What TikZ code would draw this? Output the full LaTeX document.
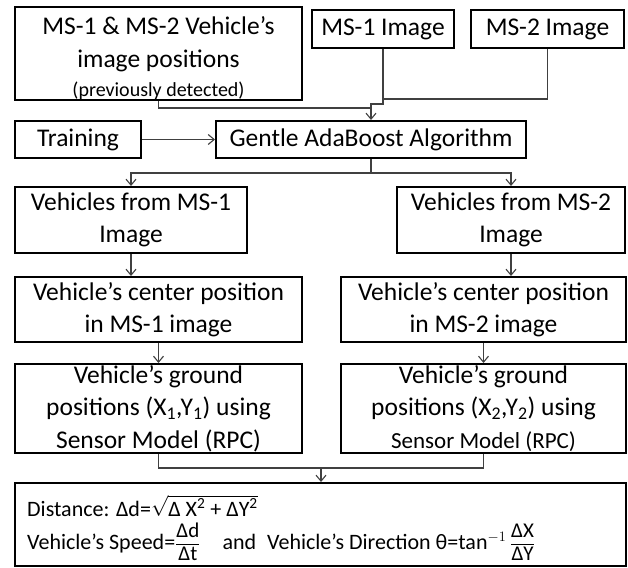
\documentclass[tikz,border=0pt]{standalone}
\usepackage{amsmath}
\usepackage{fontspec}
\setmainfont{Carlito}
\usepackage{tikz}
\usetikzlibrary{arrows.meta,positioning}

\newcommand\deltafrac[2]{{\fontsize{18}{20}\selectfont$\dfrac{\text{\fontsize{21}{21}\selectfont #1}}{\text{\fontsize{21}{21}\selectfont #2}}$}}

\begin{document}
\begin{tikzpicture}[x=1pt, y=-1pt,
    box/.style={draw, rectangle, line width=2pt, inner sep=0pt, align=center, font=\fontsize{25.5}{32.5}\selectfont},
    formula/.style={anchor=west, inner sep=0pt, font=\fontsize{22}{26}\selectfont},
    link/.style={draw=black!75, line width=1.1pt},
    >={Straight Barb[length=6pt,width=10pt]}]
    \useasboundingbox (0,0) rectangle (628,567);

    % inputs
    \node[box, minimum width=287, minimum height=87] (positions) at (158.5,53.5) {\rule{0pt}{27pt}MS-1 \& MS-2 Vehicle’s\\[1pt]image positions\\[-4pt]{\fontsize{20}{22}\selectfont(previously detected)}};
    \node[box, minimum width=142, minimum height=38] (msoneimg) at (383,29) {MS-1 Image};
    \node[box, minimum width=153, minimum height=38] (mstwoimg) at (547.5,29) {MS-2 Image};

    \node[box, minimum width=126, minimum height=37] (training) at (78,139.5) {Training};
    \node[box, minimum width=310, minimum height=37] (adaboost) at (371,139.5) {Gentle AdaBoost Algorithm};

    % two branches
    \node[box, minimum width=232, minimum height=66] (vehone) at (131,220) {Vehicles from MS-1\\Image};
    \node[box, minimum width=228, minimum height=66] (vehtwo) at (511,220) {Vehicles from MS-2\\Image};

    \node[box, minimum width=287, minimum height=65] (cenone) at (158.5,309.5) {Vehicle’s center position\\in MS-1 image};
    \node[box, minimum width=285, minimum height=65] (centwo) at (483.5,309.5) {Vehicle’s center position\\in MS-2 image};

    \node[box, minimum width=287, minimum height=89] (gndone) at (158.5,408.5) {Vehicle’s ground\\positions (X\textsubscript{1},Y\textsubscript{1}) using\\Sensor Model (RPC)};
    \node[box, minimum width=285, minimum height=89] (gndtwo) at (483.5,408.5) {Vehicle’s ground\\positions (X\textsubscript{2},Y\textsubscript{2}) using\\{\fontsize{23}{28}\selectfont Sensor Model (RPC)}};

    % result
    \node[box, minimum width=611, minimum height=83] (result) at (320.5,524.5) {};
    \node[formula] (distance) at (27,506) {Distance: Δd=$\sqrt{\text{Δ X\textsuperscript{2} + ΔY\textsuperscript{2}}}$};
    \node[formula] (speed) at (27,542) {Vehicle’s Speed=\deltafrac{Δd}{Δt}\quad and\enspace Vehicle’s Direction θ=tan$^{-1}$\,\deltafrac{ΔX}{ΔY}};

    % junctions
    \coordinate (jtop) at (383,99);
    \coordinate (jjog) at (383,104);
    \coordinate (jpos) at (371,108);
    \coordinate (split) at (371,173);
    \coordinate (merge) at (321,468);

    \draw[link] (mstwoimg.south) |- (jtop);
    \draw[link, ->] (msoneimg.south) -- (jjog) -| (adaboost.north);
    \draw[link] (positions.south) |- (jpos);
    \draw[link, ->] (training) -- (adaboost);

    \draw[link] (adaboost.south) -- (split);
    \draw[link, ->] (split) -| (vehone.north);
    \draw[link, ->] (split) -| (vehtwo.north);

    \draw[link, ->] (vehone.south) -- (vehone.south |- cenone.north);
    \draw[link, ->] (vehtwo.south) -- (vehtwo.south |- centwo.north);
    \draw[link, ->] (cenone) -- (gndone);
    \draw[link, ->] (centwo) -- (gndtwo);

    \draw[link] (gndone.south) |- (merge);
    \draw[link] (gndtwo.south) |- (merge);
    \draw[link, ->] (merge) -- (merge |- result.north);
\end{tikzpicture}
\end{document}
